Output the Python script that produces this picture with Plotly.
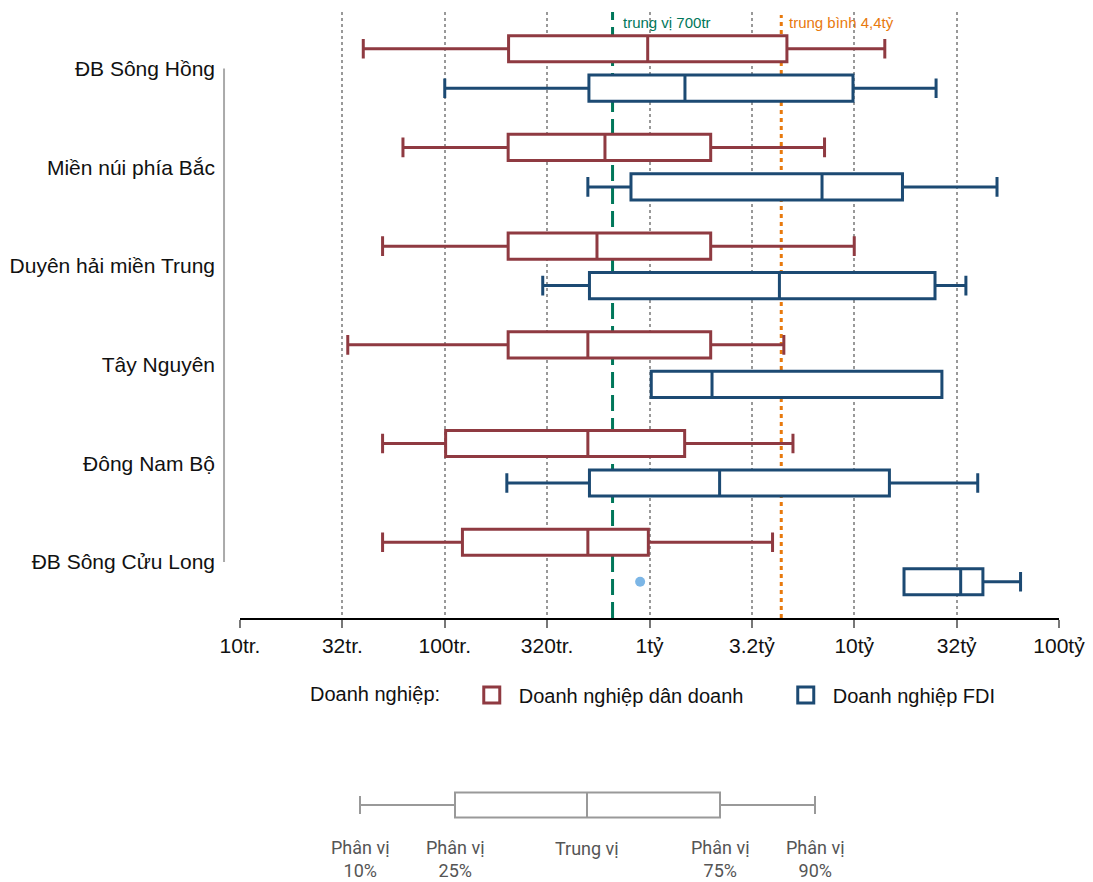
import math
import plotly.graph_objects as go

# ---------------- data ----------------
regions = ["ĐB Sông Hồng", "Miền núi phía Bắc", "Duyên hải miền Trung",
           "Tây Nguyên", "Đông Nam Bộ", "ĐB Sông Cửu Long"]

# Doanh nghiệp dân doanh (VND) - percentiles 10/25/50/75/90
dd_p10 = [4.0e7, 6.25e7, 4.97e7, 3.36e7, 4.97e7, 4.97e7]
dd_p25 = [2.05e8, 2.04e8, 2.04e8, 2.04e8, 1.01e8, 1.22e8]
dd_p50 = [9.8e8, 6.06e8, 5.54e8, 5.0e8, 5.0e8, 5.0e8]
dd_p75 = [4.69e9, 1.99e9, 1.99e9, 1.99e9, 1.485e9, 9.87e8]
dd_p90 = [1.41e10, 7.16e9, 1.0e10, 4.53e9, 5.02e9, 3.99e9]

# Doanh nghiệp FDI (VND)
fdi_p10 = [1.0e8, 5.0e8, 3.01e8, 1.02e9, 2.01e8, 1.75e10]
fdi_p25 = [5.06e8, 8.12e8, 5.09e8, 1.02e9, 5.09e8, 1.75e10]
fdi_p50 = [1.49e9, 6.96e9, 4.31e9, 2.02e9, 2.2e9, 3.31e10]
fdi_p75 = [9.86e9, 1.72e10, 2.48e10, 2.68e10, 1.485e10, 4.25e10]
fdi_p90 = [2.51e10, 4.98e10, 3.51e10, 2.68e10, 4.01e10, 6.49e10]

# single point shown for FDI in ĐB Sông Cửu Long
dot_value = [9.0e8]
dot_region = ["ĐB Sông Cửu Long"]

overall_median = 6.6e8
overall_median_label = "trung vị 700tr"
overall_mean = 4.4e9
overall_mean_label = "trung bình 4,4tỷ"

tick_values = [1e7, 3.162e7, 1e8, 3.162e8, 1e9, 3.162e9, 1e10, 3.162e10, 1e11]
tick_labels = ["10tr.", "32tr.", "100tr.", "320tr.", "1tỷ", "3.2tỷ", "10tỷ", "32tỷ", "100tỷ"]

series_names = ["Doanh nghiệp dân doanh", "Doanh nghiệp FDI"]
legend_title = "Doanh nghiệp:"

# key (explanation) diagram
key_values = [0, 95, 227, 360, 455]
key_labels = ["Phân vị<br>10%", "Phân vị<br>25%", "Trung vị", "Phân vị<br>75%", "Phân vị<br>90%"]

# ---------------- styling ----------------
RED = "#8f3a41"
BLUE = "#1c4a73"
GREEN = "#00775a"
ORANGE = "#e8790d"
DOT = "#7cb6e6"
FONT = "Liberation Sans"

offset = 0.2
box_w = 0.265
y_range = [5.568, -0.572]
pos = {r: i for i, r in enumerate(regions)}

fig = go.Figure()

def add_box(name, color, p10, p25, p50, p75, p90, shift):
    fig.add_trace(go.Box(
        name=name, orientation="h",
        y=[i + shift for i in range(len(regions))],
        q1=p25, median=p50, q3=p75, lowerfence=p10, upperfence=p90,
        boxpoints=False, width=box_w, whiskerwidth=0.75,
        line=dict(color=color, width=3), fillcolor="white",
        showlegend=False, hoverinfo="skip",
        xaxis="x", yaxis="y",
    ))

add_box(series_names[0], RED, dd_p10, dd_p25, dd_p50, dd_p75, dd_p90, -offset)
add_box(series_names[1], BLUE, fdi_p10, fdi_p25, fdi_p50, fdi_p75, fdi_p90, offset)

fig.add_trace(go.Scatter(
    x=dot_value, y=[pos[r] + offset for r in dot_region], mode="markers",
    marker=dict(color=DOT, size=10), showlegend=False, hoverinfo="skip",
))

# legend proxies
for name, color in zip(series_names, [RED, BLUE]):
    fig.add_trace(go.Scatter(
        x=[None], y=[None], mode="markers", name=name,
        marker=dict(symbol="square-open", size=18, color=color,
                    line=dict(width=3, color=color)),
    ))

# key box
fig.add_trace(go.Box(
    orientation="h", y=[0],
    lowerfence=[key_values[0]], q1=[key_values[1]], median=[key_values[2]],
    q3=[key_values[3]], upperfence=[key_values[4]],
    boxpoints=False, width=1.0, whiskerwidth=0.72,
    line=dict(color="#999999", width=2), fillcolor="white",
    showlegend=False, hoverinfo="skip", xaxis="x2", yaxis="y2",
))

# reference lines, beneath the (white-filled) boxes; shapes on a log axis take data values
fig.add_shape(type="line", xref="x", yref="y",
              x0=overall_median, x1=overall_median, y0=y_range[0], y1=y_range[1],
              line=dict(color=GREEN, width=3, dash="16px,7px"), layer="below")
fig.add_shape(type="line", xref="x", yref="y",
              x0=overall_mean, x1=overall_mean, y0=y_range[0], y1=y_range[1] + 0.03,
              line=dict(color=ORANGE, width=3, dash="4px,4px"), layer="below")

fig.add_annotation(x=math.log10(overall_median), xref="x", y=1, yref="y domain",
                   text=overall_median_label, showarrow=False, xanchor="left", yanchor="top",
                   xshift=8, font=dict(family=FONT, size=15, color=GREEN))
fig.add_annotation(x=math.log10(overall_mean), xref="x", y=1, yref="y domain",
                   text=overall_mean_label, showarrow=False, xanchor="left", yanchor="top",
                   xshift=6, font=dict(family=FONT, size=15, color=ORANGE))

# y-axis bracket line
fig.add_shape(type="line", xref="paper", yref="y", x0=-0.0195, x1=-0.0195,
              y0=0, y1=len(regions) - 1, line=dict(color="#aaaaaa", width=2))

# key labels
for v, lab in zip(key_values, key_labels):
    two = "<br>" in lab
    fig.add_annotation(x=v, xref="x2", y=0.0259 if two else 0.039, yref="paper",
                       text=lab, showarrow=False, xanchor="center", yanchor="middle",
                       font=dict(family="Roboto", size=18, color="#555555"))

fig.update_layout(
    width=1093, height=882, autosize=False,
    margin=dict(l=240, r=34, t=12, b=0),
    paper_bgcolor="white", plot_bgcolor="white",
    boxmode="overlay",
    font=dict(family=FONT, size=20, color="#111111"),
    xaxis=dict(type="log", range=[7, 11], domain=[0, 1], anchor="y",
               tickvals=tick_values, ticktext=tick_labels,
               ticks="outside", ticklen=8, tickwidth=2, tickcolor="#777777",
               showline=True, linecolor="black", linewidth=2,
               showgrid=True, gridcolor="#999999", griddash="dot", gridwidth=1.5,
               zeroline=False, tickfont=dict(family=FONT, size=21, color="#111111")),
    yaxis=dict(domain=[0.3034, 1], range=y_range, anchor="x",
               tickvals=list(range(len(regions))), ticktext=regions,
               showgrid=False, zeroline=False, showline=False, ticks="",
               ticklabelstandoff=24, tickfont=dict(family=FONT, size=21, color="#111111")),
    xaxis2=dict(domain=[0, 1], anchor="y2", range=[-120, 699], visible=False),
    yaxis2=dict(domain=[0.0598, 0.1172], anchor="x2", range=[-1, 1], visible=False),
    legend=dict(orientation="h", x=0.083, xanchor="left", y=0.215, yanchor="middle",
                title=dict(text=legend_title + "\u00a0\u00a0\u00a0", side="left",
                           font=dict(family=FONT, size=20, color="#111111")),
                font=dict(family=FONT, size=20, color="#111111"),
                itemsizing="trace", itemwidth=44, entrywidth=255),
)

fig.write_html("out.html")
